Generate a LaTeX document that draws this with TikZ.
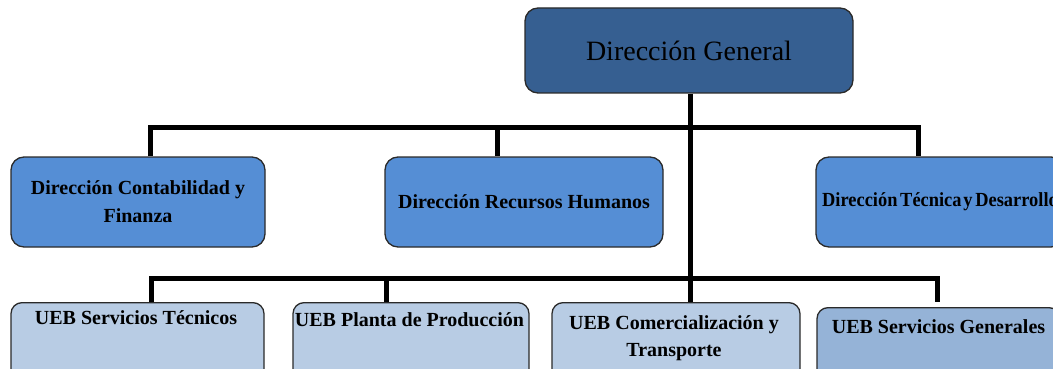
\documentclass[tikz,border=0pt]{standalone}
\usepackage{fontspec}
\usepackage{graphicx}
\setmainfont{Liberation Serif}
\usetikzlibrary{positioning}

\definecolor{topblue}{HTML}{365F91}
\definecolor{midblue}{HTML}{558ED5}
\definecolor{lowblue}{HTML}{B8CCE4}
\definecolor{lowblueb}{HTML}{95B3D7}
\definecolor{edgegray}{HTML}{2A2A2A}

\tikzset{
  box/.style={draw=edgegray, line width=1.3pt, rounded corners=13pt, inner sep=0pt},
  headbox/.style={box, fill=topblue, minimum width=328pt, minimum height=85pt,
    font=\fontsize{28}{32}\selectfont},
  deptbox/.style={box, fill=midblue, minimum height=90pt, align=center,
    font=\fontsize{20}{28}\bfseries},
  unitbox/.style={box, fill=lowblue, minimum height=100pt, rounded corners=11pt},
  unitlabel/.style={align=center, inner sep=0pt, font=\fontsize{20}{27}\bfseries},
  bus/.style={line width=5pt, black},
}

\begin{document}
\begin{tikzpicture}[x=1pt, y=-1pt]
  \useasboundingbox (0,0) rectangle (1053,369);
  \clip (0,0) rectangle (1053,369);

  % head office
  \node[headbox] (top) at (689,50.5) {Dirección General};

  % departments
  \node[deptbox, minimum width=254pt] (m1) at (138,202)
    {Dirección Contabilidad y\\Finanza};
  \node[deptbox, minimum width=278pt] (m2) at (524,202)
    {Dirección Recursos Humanos};
  \node[deptbox, minimum width=248pt] (m3) at (940,202)
    {\scalebox{0.92}[1]{Dirección\hspace{-2pt} Técnica\hspace{-3pt} y\hspace{-2pt} Desarrollo}};

  % business units
  \node[unitbox, minimum width=253pt, anchor=north] (b1) at (137.5,302) {};
  \node[unitbox, minimum width=236pt, anchor=north] (b2) at (411,302) {};
  \node[unitbox, minimum width=248pt, anchor=north] (b3) at (676,302) {};
  \node[unitbox, fill=lowblueb, minimum width=243pt, anchor=north] (b4) at (938.5,307) {};

  \node[unitlabel] (t1) at (136,318) {UEB Servicios Técnicos};
  \node[unitlabel] (t2) at (409.5,320) {UEB Planta de Producción};
  \node[unitlabel] (t3) at (674,338.5) {UEB Comercialización y\\Transporte};
  \node[unitlabel] (t4) at (938.5,327) {UEB Servicios Generales};

  % bus joints
  \coordinate (j1) at (150,127);
  \coordinate (j2) at (497,127);
  \coordinate (j3) at (918,127);
  \coordinate (k1) at (151,278);
  \coordinate (k2) at (386,278);
  \coordinate (k3) at (690,278);
  \coordinate (k4) at (937,278);
  \coordinate (k4end) at (937,302);

  % connectors
  \draw[bus] (top.south -| k3) -- (k3);
  \draw[bus] (j1 |- m1.north) -- (j1) -- (j3) -- (j3 |- m3.north);
  \draw[bus] (j2) -- (j2 |- m2.north);
  \draw[bus] (k1 |- b1.north) -- (k1) -- (k4) -- (k4end);
  \draw[bus] (k2) -- (k2 |- b2.north);
  \draw[bus] (k3) -- (k3 |- b3.north);
\end{tikzpicture}
\end{document}
